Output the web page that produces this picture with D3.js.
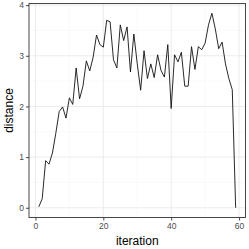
<!DOCTYPE html>
<html><head><meta charset="utf-8">
<script src="https://cdn.jsdelivr.net/npm/d3@7"></script>
<style>html,body{margin:0;padding:0;background:#fff;}svg{display:block;}</style>
</head><body>
<script>
const iterations = d3.range(1, 60);
const distance = [0.02,0.18,0.93,0.86,1.08,1.47,1.90,1.99,1.77,2.17,2.04,2.76,2.15,2.40,2.90,2.70,2.97,3.41,3.22,3.17,
3.70,3.67,2.92,2.76,3.61,3.30,3.57,2.68,3.43,2.84,2.32,3.10,2.55,2.84,2.57,3.02,2.71,2.58,3.22,1.96,
3.02,2.88,3.07,2.40,2.40,3.18,2.73,3.18,3.12,3.25,3.61,3.84,3.53,3.14,3.27,2.84,2.55,2.33,0.00];
const xTicks = [0,20,40,60];
const yTicks = [0,1,2,3,4];
const xMinor = [10,30,50];
const yMinor = [0.5,1.5,2.5,3.5];

const W = 249, H = 249;
const L = 29, R = 245.5, T = 3.5, B = 217.5;
const svg = d3.select("body").append("svg").attr("width", W).attr("height", H);

const xr = d3.extent(iterations), xpad = (xr[1]-xr[0])*0.05;
const yr = d3.extent(distance), ypad = (yr[1]-yr[0])*0.05;
const x = d3.scaleLinear().domain([xr[0]-xpad, xr[1]+xpad]).range([L, R]);
const y = d3.scaleLinear().domain([yr[0]-ypad, yr[1]+ypad]).range([B, T]);

const g = svg.append("g");
g.selectAll(".xmin").data(xMinor).join("line")
  .attr("x1", d=>x(d)).attr("x2", d=>x(d)).attr("y1", T).attr("y2", B)
  .attr("stroke", "#f3f3f3").attr("stroke-width", 0.5);
g.selectAll(".ymin").data(yMinor).join("line")
  .attr("y1", d=>y(d)).attr("y2", d=>y(d)).attr("x1", L).attr("x2", R)
  .attr("stroke", "#f3f3f3").attr("stroke-width", 0.5);
g.selectAll(".xmaj").data(xTicks).join("line")
  .attr("x1", d=>x(d)).attr("x2", d=>x(d)).attr("y1", T).attr("y2", B)
  .attr("stroke", "#ebebeb").attr("stroke-width", 1);
g.selectAll(".ymaj").data(yTicks).join("line")
  .attr("y1", d=>y(d)).attr("y2", d=>y(d)).attr("x1", L).attr("x2", R)
  .attr("stroke", "#ebebeb").attr("stroke-width", 1);

const line = d3.line().x((d,i)=>x(iterations[i])).y(d=>y(d));
svg.append("path").datum(distance).attr("d", line)
  .attr("fill", "none").attr("stroke", "#111").attr("stroke-width", 0.9)
  .attr("stroke-linejoin", "round");

svg.append("rect").attr("x", L).attr("y", T).attr("width", R-L).attr("height", B-T)
  .attr("fill", "none").attr("stroke", "#333").attr("stroke-width", 0.9);

const xAxis = d3.axisBottom(x).tickValues(xTicks).tickSize(3).tickPadding(2).tickFormat(d3.format("d"));
const gx = svg.append("g").attr("transform", `translate(0,${B})`).call(xAxis);
const yAxis = d3.axisLeft(y).tickValues(yTicks).tickSize(3).tickPadding(2).tickFormat(d3.format("d"));
const gy = svg.append("g").attr("transform", `translate(${L},0)`).call(yAxis);
[gx, gy].forEach(a => {
  a.select(".domain").remove();
  a.selectAll(".tick line").attr("stroke", "#333").attr("stroke-width", 0.9);
  a.selectAll(".tick text").attr("fill", "#4d4d4d")
    .style("font-family", "Liberation Sans, Arial, sans-serif").style("font-size", "8.5px");
});

svg.append("text").attr("x", (L+R)/2).attr("y", 245).attr("text-anchor", "middle")
  .style("font-family", "Liberation Sans, Arial, sans-serif").style("font-size", "12px")
  .attr("fill", "#000").text("iteration");
svg.append("text").attr("transform", `translate(12.5,${(T+B)/2}) rotate(-90)`).attr("text-anchor", "middle")
  .style("font-family", "Liberation Sans, Arial, sans-serif").style("font-size", "12px")
  .attr("fill", "#000").text("distance");
</script>
</body></html>
